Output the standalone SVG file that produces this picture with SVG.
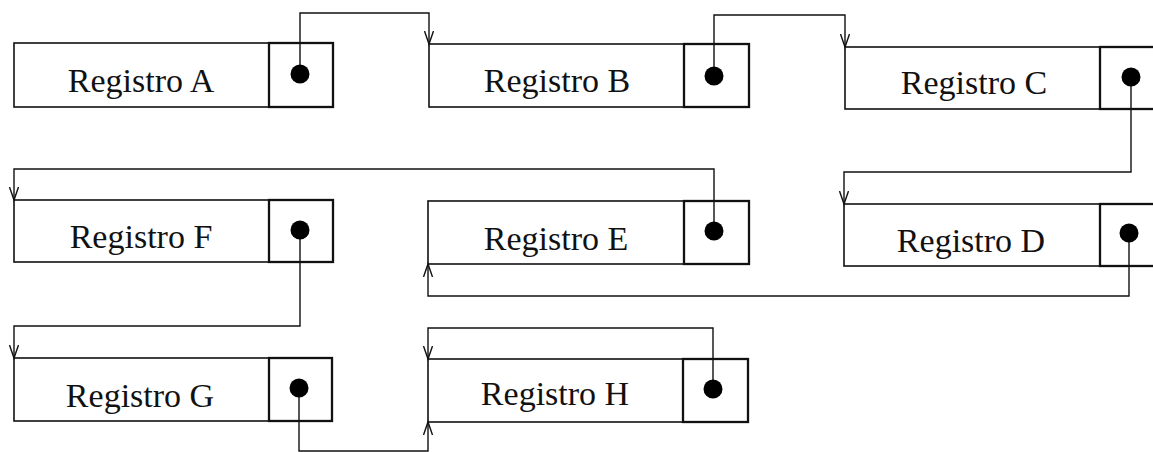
<svg xmlns="http://www.w3.org/2000/svg" width="1153" height="452" viewBox="0 0 1153 452">
  <style>
    .data { fill: #fff; stroke: #111; stroke-width: 1.6; }
    .ptr { fill: #fff; stroke: #111; stroke-width: 2.3; }
    .dot { fill: #000; }
    .label { font-family: "Liberation Serif", "Times New Roman", serif; font-size: 34px; fill: #111; text-anchor: middle; }
    .link { fill: none; stroke: #111; stroke-width: 1.4; marker-end: url(#arrow); }
  </style>
  <defs>
    <marker id="arrow" markerUnits="userSpaceOnUse" markerWidth="16" markerHeight="12" refX="13" refY="5" orient="auto">
      <path d="M0,0.5 L13,5 L0,9.5" fill="none" stroke="#111" stroke-width="1.4"/>
    </marker>
  </defs>

  <rect width="1153" height="452" fill="#fff"/>

  <!-- linked records: data field + pointer field -->
  <g id="registro-a">
    <rect class="data" x="14" y="43" width="255" height="64"/>
    <rect class="ptr" x="269" y="43" width="64" height="64"/>
    <text class="label" x="141" y="92">Registro A</text>
  </g>
  <g id="registro-b">
    <rect class="data" x="429" y="44" width="255" height="63"/>
    <rect class="ptr" x="684" y="44" width="65" height="63"/>
    <text class="label" x="557" y="92">Registro B</text>
  </g>
  <g id="registro-c">
    <rect class="data" x="845" y="47" width="255" height="62"/>
    <rect class="ptr" x="1100" y="47" width="64" height="62"/>
    <text class="label" x="974" y="94">Registro C</text>
  </g>
  <g id="registro-f">
    <rect class="data" x="14" y="200" width="255" height="62"/>
    <rect class="ptr" x="269" y="200" width="64" height="62"/>
    <text class="label" x="141" y="248">Registro F</text>
  </g>
  <g id="registro-e">
    <rect class="data" x="428" y="201" width="256" height="63"/>
    <rect class="ptr" x="684" y="201" width="65" height="63"/>
    <text class="label" x="556" y="250">Registro E</text>
  </g>
  <g id="registro-d">
    <rect class="data" x="844" y="204" width="256" height="62"/>
    <rect class="ptr" x="1100" y="204" width="64" height="62"/>
    <text class="label" x="971" y="252">Registro D</text>
  </g>
  <g id="registro-g">
    <rect class="data" x="14" y="358" width="255" height="63"/>
    <rect class="ptr" x="269" y="358" width="63" height="63"/>
    <text class="label" x="140" y="407">Registro G</text>
  </g>
  <g id="registro-h">
    <rect class="data" x="428" y="359" width="255" height="63"/>
    <rect class="ptr" x="683" y="359" width="65" height="63"/>
    <text class="label" x="555" y="405">Registro H</text>
  </g>

  <!-- pointer links -->
  <g id="connectors">
    <path class="link" d="M300,74 V13 H429 V44"/>
    <path class="link" d="M714,76 V15 H845 V47"/>
    <path class="link" d="M1131,77 V172 H844 V204"/>
    <path class="link" d="M1129,233 V296 H428 V264"/>
    <path class="link" d="M714,231 V169 H14 V200"/>
    <path class="link" d="M300,230 V326 H14 V358"/>
    <path class="link" d="M299,388 V451 H428 V422"/>
    <path class="link" d="M713,389 V328 H428 V359"/>
  </g>

  <!-- pointer dots drawn over the link origins -->
  <g id="pointer-dots">
    <circle class="dot" cx="300" cy="74" r="9.5"/>
    <circle class="dot" cx="714" cy="76" r="9.5"/>
    <circle class="dot" cx="1131" cy="77" r="9.5"/>
    <circle class="dot" cx="300" cy="230" r="9.5"/>
    <circle class="dot" cx="714" cy="231" r="9.5"/>
    <circle class="dot" cx="1129" cy="233" r="9.5"/>
    <circle class="dot" cx="299" cy="388" r="9.5"/>
    <circle class="dot" cx="713" cy="389" r="9.5"/>
  </g>
</svg>
